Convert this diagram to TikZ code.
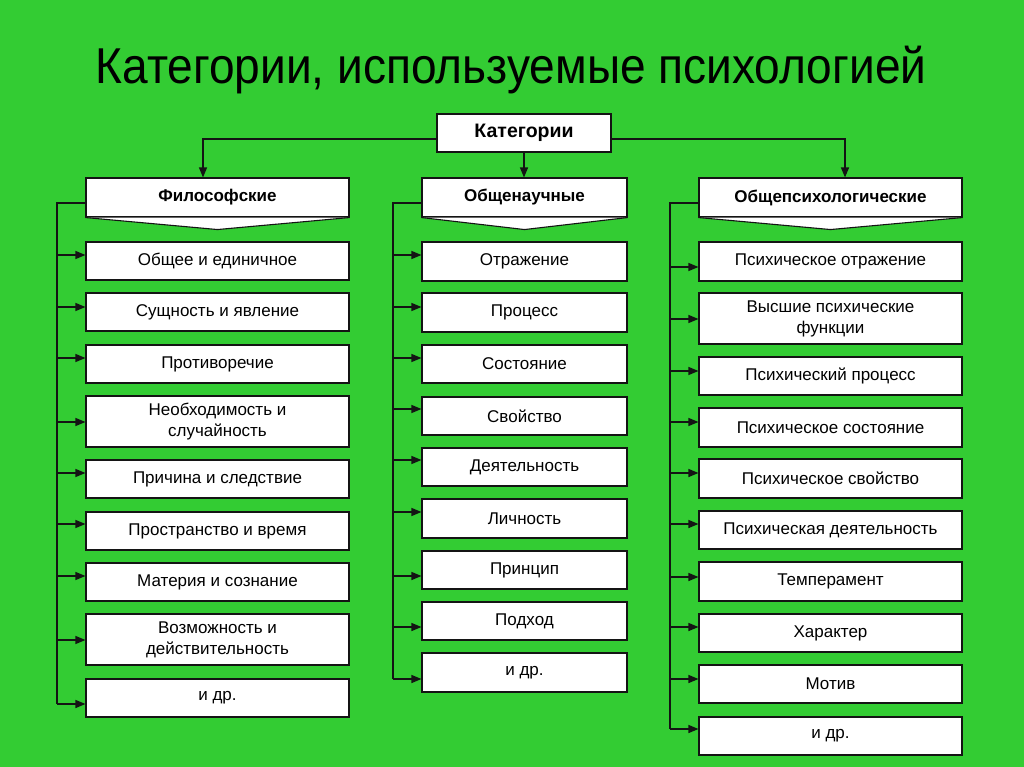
\documentclass[tikz,border=0pt]{standalone}
\usepackage{fontspec}
\setmainfont{Liberation Sans}
\usetikzlibrary{arrows.meta,calc}
\definecolor{bg}{RGB}{51,204,51}
\definecolor{ink}{RGB}{20,20,20}
\newcommand\itm[7]{%
  \pgfmathsetmacro\yc{(#3+#4)/2}%
  \pgfmathsetmacro\hh{#4-#3}%
  \node[box, minimum width=#7, minimum height=\hh pt] (#1) at (#2,\yc) {#5};
  \coordinate (#1s) at (#6);
  \draw[arr] (#1s) -- (#1.west |- #1s);
}
\begin{document}
\begin{tikzpicture}[x=1pt,y=-1pt,
  box/.style={draw=ink,line width=1.1pt,fill=white,inner sep=0pt,align=center,
    font=\fontsize{17}{21}\selectfont},
  hdr/.style={box,font=\fontsize{17}{20}\selectfont\bfseries},
  conn/.style={draw=ink,line width=1.3pt},
  arr/.style={conn,-{Triangle[length=10pt,width=8pt]}}]
\fill[bg] (0,0) rectangle (1024,767);
\useasboundingbox (0,0) rectangle (1024,767);

\node[font=\fontsize{48}{50}\selectfont, xscale=0.96, yscale=1.05] (title) at (511,70) {Категории, используемые психологией};

\node[box,font=\fontsize{19.5}{22}\selectfont\bfseries,minimum width=174pt,minimum height=38pt] (top) at (524,133) {Категории};

% headers
\node[hdr,minimum width=263pt,minimum height=39pt] (h1) at (217.5,197.5) {Философские};
\node[hdr,minimum width=205pt,minimum height=39pt] (h2) at (524.5,197.5) {Общенаучные};
\node[hdr,minimum width=263pt,minimum height=39pt] (h3) at (830.5,197.5) {Общепсихологические};
\foreach \h in {h1,h2,h3}{
  \draw[draw=ink,line width=1.1pt,fill=white] (\h.south west) -- ($(\h.south)+(0,12)$) -- (\h.south east);
}

% top connectors
\coordinate (jl) at (203,139);
\coordinate (jr) at (845,139);
\draw[arr] (top.west |- jl) -- (jl) -- (jl |- h1.north);
\draw[arr] (top.east |- jr) -- (jr) -- (jr |- h3.north);
\draw[arr] (top.south) -- (top.south |- h2.north);

% column 1
\itm{a1}{217.5}{242}{280}{Общее и единичное}{57,255}{263pt}
\itm{a2}{217.5}{293}{331}{Сущность и явление}{57,307}{263pt}
\itm{a3}{217.5}{345}{383}{Противоречие}{57,358}{263pt}
\itm{a4}{217.5}{396}{447}{Необходимость и\\случайность}{57,422}{263pt}
\itm{a5}{217.5}{460}{498}{Причина и следствие}{57,473}{263pt}
\itm{a6}{217.5}{512}{550}{Пространство и время}{57,524}{263pt}
\itm{a7}{217.5}{563}{601}{Материя и сознание}{57,576}{263pt}
\itm{a8}{217.5}{614}{665}{Возможность и\\действительность}{57,640}{263pt}
\itm{a9}{217.5}{679}{717}{и др.}{57,704}{263pt}
\coordinate (t1) at (57,203);
\draw[conn] (h1.west |- t1) -- (t1) -- (a9s);

% column 2
\itm{b1}{524.5}{242}{281}{Отражение}{393,255}{205pt}
\itm{b2}{524.5}{293}{332}{Процесс}{393,307}{205pt}
\itm{b3}{524.5}{345}{383}{Состояние}{393,358}{205pt}
\itm{b4}{524.5}{397}{435}{Свойство}{393,409}{205pt}
\itm{b5}{524.5}{448}{486}{Деятельность}{393,460}{205pt}
\itm{b6}{524.5}{499}{538}{Личность}{393,512}{205pt}
\itm{b7}{524.5}{551}{589}{Принцип}{393,576}{205pt}
\itm{b8}{524.5}{602}{640}{Подход}{393,627}{205pt}
\itm{b9}{524.5}{653}{692}{и др.}{393,679}{205pt}
\coordinate (t2) at (393,203);
\draw[conn] (h2.west |- t2) -- (t2) -- (b9s);

% column 3
\itm{c1}{830.5}{242}{281}{Психическое отражение}{670,267}{263pt}
\itm{c2}{830.5}{293}{344}{Высшие психические\\функции}{670,319}{263pt}
\itm{c3}{830.5}{357}{395}{Психический процесс}{670,371}{263pt}
\itm{c4}{830.5}{408}{447}{Психическое состояние}{670,422}{263pt}
\itm{c5}{830.5}{459}{498}{Психическое свойство}{670,473}{263pt}
\itm{c6}{830.5}{511}{549}{Психическая деятельность}{670,524}{263pt}
\itm{c7}{830.5}{562}{601}{Темперамент}{670,577}{263pt}
\itm{c8}{830.5}{614}{652}{Характер}{670,627}{263pt}
\itm{c9}{830.5}{665}{703}{Мотив}{670,679}{263pt}
\itm{c10}{830.5}{717}{755}{и др.}{670,729}{263pt}
\coordinate (t3) at (670,203);
\draw[conn] (h3.west |- t3) -- (t3) -- (c10s);
\end{tikzpicture}
\end{document}
